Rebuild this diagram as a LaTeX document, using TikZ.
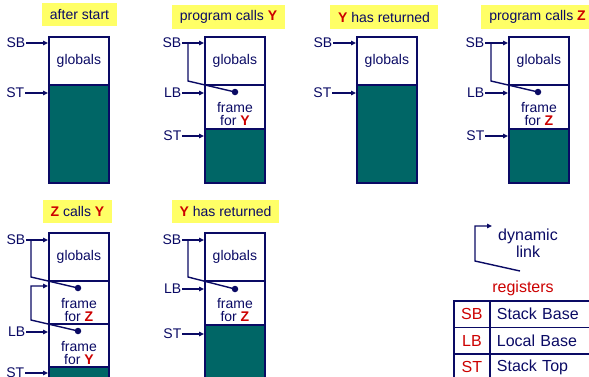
\documentclass[tikz,border=0pt]{standalone}
\usepackage{fontspec}
\setmainfont{Liberation Sans}
\usetikzlibrary{arrows.meta,calc}
\definecolor{navy}{RGB}{10,10,100}
\definecolor{stackteal}{RGB}{0,102,102}
\definecolor{titleyellow}{RGB}{255,255,102}
\definecolor{hlred}{RGB}{204,0,0}
\newcommand{\hlname}[1]{\textcolor{hlred}{\textbf{#1}}}
\begin{document}
\begin{tikzpicture}[x=1pt,y=-1pt,
  base/.style={text=navy, font=\fontsize{14}{13}\selectfont},
  title/.style={base, fill=titleyellow, inner sep=0pt, minimum height=23pt},
  cell/.style={base, draw=navy, line width=1.8pt, anchor=north west, minimum width=60pt, inner sep=0pt},
  stackcell/.style={cell, fill=stackteal},
  reg/.style={base, inner sep=0.5pt, anchor=east},
  ctext/.style={base, align=center, inner sep=0pt},
  link/.style={draw=navy, line width=1.4pt},
  ptr/.style={link, -{Triangle[length=5pt,width=4.5pt]}},
  dot/.style={circle, fill=navy, inner sep=0pt, minimum size=6.5pt},
  leg/.style={text=navy, font=\fontsize{16}{17}\selectfont, inner sep=0pt},
  tcell/.style={draw=navy, line width=1.8pt, anchor=north west, inner sep=0pt, minimum height=26.5pt, font=\fontsize{16}{17}\selectfont},
]
\useasboundingbox (0,0) rectangle (589,376);

% ---------- panel 1: after start
\node[title, minimum width=75pt] (h1) at (79.5,14.5) {after start};
\node[cell, minimum height=48pt] (g1) at (48,36) {globals};
\node[stackcell, minimum height=98pt] (t1) at (48,84) {};
\node[reg] (sb1) at (26,43) {SB};
\node[reg] (st1) at (25,93) {ST};
\draw[ptr] (sb1.east) -- (sb1.east -| g1.west);
\draw[ptr] (st1.east) -- (st1.east -| t1.west);

% ---------- panel 2: program calls Y
\node[title, minimum width=113pt, minimum height=24pt] (h2) at (228.5,17) {program calls \hlname{Y}};
\node[cell, minimum height=48pt] (g2) at (204,36) {globals};
\node[cell, minimum height=44pt] (f2) at (204,84) {};
\node[stackcell, minimum height=54pt] (t2) at (204,128) {};
\node[ctext] (f2t) at ($(f2.center)+(0,7)$) {frame\\for \hlname{Y}};
\node[reg] (sb2) at (182,43) {SB};
\node[reg] (lb2) at (182,93) {LB};
\node[reg] (st2) at (182,136) {ST};
\draw[ptr] (sb2.east) -- (sb2.east -| g2.west);
\draw[ptr] (lb2.east) -- (lb2.east -| f2.west);
\draw[ptr] (st2.east) -- (st2.east -| t2.west);
\node[dot] (d2) at (235,92) {};
\coordinate (j2) at (188,43);
\draw[link] (d2.center) -- (188,81) -- (j2);

% ---------- panel 3: Y has returned
\node[title, minimum width=108pt, minimum height=24pt] (h3) at (384,17) {\hlname{Y} has returned};
\node[cell, minimum height=48pt] (g3) at (356,36) {globals};
\node[stackcell, minimum height=98pt] (t3) at (356,84) {};
\node[reg] (sb3) at (333,43) {SB};
\node[reg] (st3) at (332,93) {ST};
\draw[ptr] (sb3.east) -- (sb3.east -| g3.west);
\draw[ptr] (st3.east) -- (st3.east -| t3.west);

% ---------- panel 4: program calls Z
\node[title, minimum width=113pt, minimum height=24pt] (h4) at (537.5,17) {program calls \hlname{Z}};
\node[cell, minimum height=48pt] (g4) at (508,36) {globals};
\node[cell, minimum height=44pt] (f4) at (508,84) {};
\node[stackcell, minimum height=54pt] (t4) at (508,128) {};
\node[ctext] (f4t) at ($(f4.center)+(0,7)$) {frame\\for \hlname{Z}};
\node[reg] (sb4) at (485,43) {SB};
\node[reg] (lb4) at (485,93) {LB};
\node[reg] (st4) at (485,136) {ST};
\draw[ptr] (sb4.east) -- (sb4.east -| g4.west);
\draw[ptr] (lb4.east) -- (lb4.east -| f4.west);
\draw[ptr] (st4.east) -- (st4.east -| t4.west);
\node[dot] (d4) at (538,92) {};
\coordinate (j4) at (491,43);
\draw[link] (d4.center) -- (491,81) -- (j4);

% ---------- panel 5: Z calls Y
\node[title, minimum width=69pt] (h5) at (77.5,211.5) {\hlname{Z} calls \hlname{Y}};
\node[cell, minimum height=48pt] (g5) at (48,232) {globals};
\node[cell, minimum height=43pt] (fz5) at (48,280) {};
\node[cell, minimum height=43pt] (fy5) at (48,323) {};
\node[stackcell, minimum height=20pt] (t5) at (48,366) {};
\node[ctext] (fz5t) at ($(fz5.center)+(0,7.5)$) {frame\\for \hlname{Z}};
\node[ctext] (fy5t) at ($(fy5.center)+(0,7.5)$) {frame\\for \hlname{Y}};
\node[reg] (sb5) at (26,240) {SB};
\node[reg] (lb5) at (26,332) {LB};
\node[reg] (st5) at (25,373) {ST};
\draw[ptr] (sb5.east) -- (sb5.east -| g5.west);
\draw[ptr] (lb5.east) -- (lb5.east -| fy5.west);
\draw[ptr] (st5.east) -- (st5.east -| t5.west);
\node[dot] (dz5) at (78,288) {};
\node[dot] (dy5) at (78,331) {};
\coordinate (j5) at (31,240);
\draw[link] (dz5.center) -- (31,277) -- (j5);
\coordinate (k5) at (48,286);
\draw[ptr] (dy5.center) -- (31,320) -- (31,286) -- (k5);

% ---------- panel 6: Y has returned
\node[title, minimum width=107pt] (h6) at (225.5,211.5) {\hlname{Y} has returned};
\node[cell, minimum height=48pt] (g6) at (204,232) {globals};
\node[cell, minimum height=44pt] (fz6) at (204,280) {};
\node[stackcell, minimum height=60pt] (t6) at (204,324) {};
\node[ctext] (fz6t) at ($(fz6.center)+(0,7)$) {frame\\for \hlname{Z}};
\node[reg] (sb6) at (182,240) {SB};
\node[reg] (lb6) at (182,289) {LB};
\node[reg] (st6) at (182,334) {ST};
\draw[ptr] (sb6.east) -- (sb6.east -| g6.west);
\draw[ptr] (lb6.east) -- (lb6.east -| fz6.west);
\draw[ptr] (st6.east) -- (st6.east -| t6.west);
\node[dot] (d6) at (235,289) {};
\coordinate (j6) at (188,240);
\draw[link] (d6.center) -- (188,277) -- (j6);

% ---------- legend
\coordinate (lk0) at (520,271);
\coordinate (lk1) at (492,226);
\draw[ptr] (lk0) -- (475,261) -- (475,226) -- (lk1);
\node[leg, align=center] (lkt) at (528,243.5) {dynamic\\link};
\node[leg, text=hlred] (regt) at (523,288) {registers};
\node[tcell, minimum width=36pt, text=hlred] (r1a) at (453,300) {SB};
\node[tcell, text width=100pt, inner xsep=7pt, align=left, text=navy] (r1b) at (489,300) {Stack Base};
\node[tcell, minimum width=36pt, text=hlred] (r2a) at (453,326.5) {LB};
\node[tcell, text width=100pt, inner xsep=7pt, align=left, text=navy] (r2b) at (489,326.5) {Local Base};
\node[tcell, minimum width=36pt, text=hlred] (r3a) at (453,353) {ST};
\node[tcell, text width=100pt, inner xsep=7pt, align=left, text=navy] (r3b) at (489,353) {Stack Top};
\end{tikzpicture}
\end{document}
